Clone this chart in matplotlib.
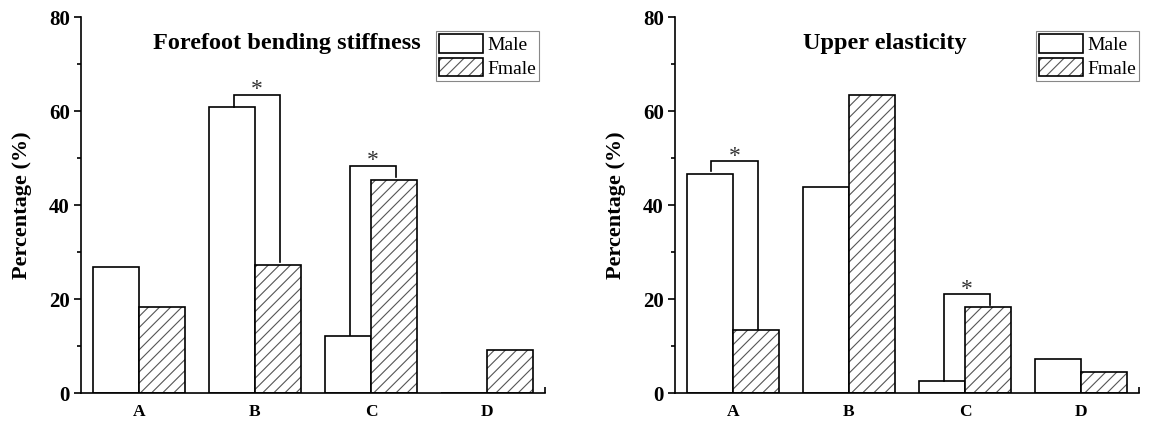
import matplotlib
matplotlib.use("Agg")
import matplotlib.pyplot as plt
from matplotlib.patches import Patch
from matplotlib.legend_handler import HandlerTuple
import numpy as np

plt.rcParams['font.family'] = ['Liberation Serif', 'DejaVu Serif']
plt.rcParams['hatch.linewidth'] = 0.8

categories = ['A', 'B', 'C', 'D']
series_names = ['Male', 'Fmale']

stiff_male = [26.8, 60.8, 12.1, 0.0]
stiff_female = [18.2, 27.3, 45.4, 9.1]
elast_male = [46.5, 43.8, 2.5, 7.3]
elast_female = [13.5, 63.5, 18.2, 4.5]

# significance brackets: (category index, top, male leg end, female leg end)
stiff_sig = [(1, 63.5, 60.8, 27.9), (2, 48.4, 12.3, 46.0)]
elast_sig = [(0, 49.4, 47.2, 13.7), (2, 21.0, 2.5, 18.7)]

titles = ['Forefoot bending stiffness', 'Upper elasticity']
title_x = [0.444, 0.453]

fig = plt.figure(figsize=(11.52, 4.22), dpi=100)
axes = [fig.add_axes([0.0703, 0.0687, 0.4028, 0.891]),
        fig.add_axes([0.5859, 0.0687, 0.4028, 0.891])]

panels = [(stiff_male, stiff_female, stiff_sig), (elast_male, elast_female, elast_sig)]
w = 0.4
hatch_col = '#555555'
x = np.arange(1, len(categories) + 1)

for i, ax in enumerate(axes):
    male, female, sig = panels[i]
    ax.bar(x - w / 2, male, w, color='white', edgecolor='black', linewidth=1.2)
    ax.bar(x + w / 2, female, w, color='white', edgecolor=hatch_col, linewidth=0, hatch='///')
    ax.bar(x + w / 2, female, w, fill=False, edgecolor='black', linewidth=1.2)

    for k, top, lend, rend in sig:
        xl = x[k] - w / 2 + 0.015
        xr = x[k] + w / 2 + 0.015
        ax.plot([xl, xl, xr, xr], [lend, top, top, rend], color='black', lw=1.2,
                solid_joinstyle='miter')
        ax.text((xl + xr) / 2, top + 1.0, '*', ha='center', va='center',
                fontsize=17, color='#333333')

    ax.set_xlim(0.5, 4.5)
    ax.set_ylim(0, 80)
    ax.set_xticks(x)
    ax.set_xticklabels(categories, fontsize=12.5, fontweight='bold')
    ax.set_xticks([4.5], minor=True)
    ax.set_yticks([0, 20, 40, 60, 80])
    ax.set_yticks([10, 30, 50, 70], minor=True)
    ax.set_yticklabels(['0', '20', '40', '60', '80'], fontsize=15, fontweight='bold')
    ax.tick_params(axis='x', which='major', length=0, pad=8)
    ax.tick_params(axis='x', which='minor', direction='in', length=4, width=1.2)
    ax.tick_params(axis='y', which='major', direction='out', length=5, width=1.2, pad=3)
    ax.tick_params(axis='y', which='minor', direction='out', length=3, width=1.2)
    ax.spines['top'].set_visible(False)
    ax.spines['right'].set_visible(False)
    ax.spines['left'].set_linewidth(1.2)
    ax.spines['bottom'].set_linewidth(1.2)
    ax.set_ylabel('Percentage (%)', fontsize=16, fontweight='bold', labelpad=12)

    ax.text(title_x[i], 0.93, titles[i], ha='center', va='center',
            fontsize=17.5, fontweight='bold', transform=ax.transAxes)

    h_male = Patch(facecolor='white', edgecolor='black', linewidth=1.2)
    h_fem_fill = Patch(facecolor='white', edgecolor=hatch_col, linewidth=0, hatch='///')
    h_fem_edge = Patch(fill=False, edgecolor='black', linewidth=1.2)
    leg = ax.legend([h_male, (h_fem_fill, h_fem_edge)], series_names,
                    handler_map={tuple: HandlerTuple(ndivide=1)},
                    loc='upper right', bbox_to_anchor=(0.987 if i == 0 else 1.0, 0.963),
                    fontsize=14, frameon=True, fancybox=False, edgecolor='#888888',
                    framealpha=1, borderpad=0.15, handlelength=2.3, handleheight=1.1,
                    handletextpad=0.2, labelspacing=0.2, borderaxespad=0)
    leg.get_frame().set_linewidth(0.8)

fig.savefig('out.png', dpi=100)
